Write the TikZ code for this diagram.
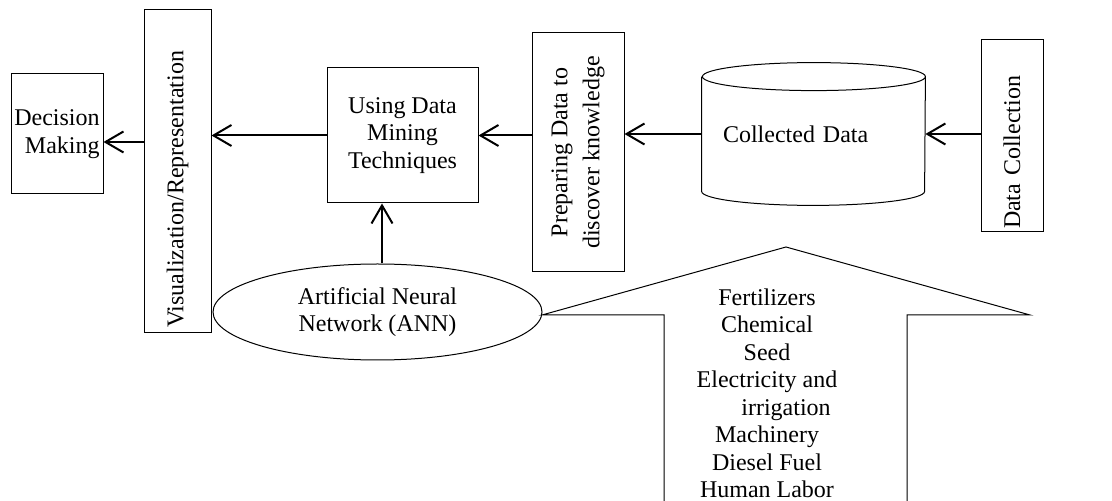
\documentclass[tikz,border=0pt]{standalone}
\usepackage{fontspec}
\setmainfont{Liberation Serif}
\usetikzlibrary{arrows.meta,shapes.geometric}

\begin{document}
\begin{tikzpicture}[x=0.5pt, y=-0.5pt,
    font=\fontsize{12pt}{13.75pt}\selectfont,
    box/.style={draw, line width=0.5pt, inner sep=0pt},
    flow/.style={-{Straight Barb[length=9pt,width=10.5pt]}, line width=1pt}]
    \useasboundingbox (0,0) rectangle (1112,501);
    % Nodes
    \node (dec) [box, minimum width=46pt, minimum height=60pt, align=right] at (57,134) {Decision\\Making};
    \node (vis) [box, rotate=90, minimum width=161.5pt, minimum height=33.5pt, inner xsep=2.5pt, text width=156.5pt, align=left] at (177.5,171.5) {Visualization/Representation};
    \node (dm) [box, minimum width=75.5pt, minimum height=67.5pt, align=center] at (402.5,135.5) {Using Data\\Mining\\Techniques};
    \node (prep) [box, rotate=90, minimum width=119.5pt, minimum height=46pt, align=center, font=\fontsize{12pt}{16pt}\selectfont] at (578,152.5) {Preparing Data to\\discover knowledge};
    \node (coll) [minimum width=111.5pt, minimum height=57pt, inner xsep=10.5pt, text width=90.5pt, align=left] at (813.5,134) {Collected Data};
    \node (dcol) [box, rotate=90, minimum width=96pt, minimum height=31pt, inner xsep=1.5pt, text width=93pt, align=left] at (1012,136) {Data Collection};
    \node (ann) [draw, ellipse, line width=0.5pt, inner sep=0pt, minimum width=164.5pt, minimum height=48pt, align=center] at (377.5,312) {Artificial Neural\\Network (ANN)};
    \node (inputs) [align=center] at (767,393.5) {Fertilizers\\Chemical\\Seed\\Electricity and\\\hspace*{19pt}irrigation\\Machinery\\Diesel Fuel\\Human Labor};

    % Cylinder and input arrow
    \draw[line width=0.5pt] (coll.north west) -- (coll.south west)
        arc[start angle=180, end angle=360, x radius=55.75pt, y radius=7pt] -- (coll.north east)
        arc[start angle=0, end angle=360, x radius=55.75pt, y radius=7pt];
    \draw[line width=0.5pt] (664,501) -- (664,315) -- (542,315) -- (786,247) -- (1030,315) -- (907,315) -- (907,501);

    % Edges
    \draw[flow] (dcol.north |- coll.east) -- (coll.east);
    \draw[flow] (coll.west) -- (coll.west -| prep.south);
    \draw[flow] (prep.north |- dm.east) -- (dm.east);
    \draw[flow] (dm.west) -- (dm.west -| vis.south);
    \draw[flow] (vis.north |- 0,142) -- (dec.east |- 0,142);
    \draw[flow] ([xshift=2.25pt]ann.north) -- ([xshift=2.25pt]ann.north |- dm.south);
\end{tikzpicture}
\end{document}
